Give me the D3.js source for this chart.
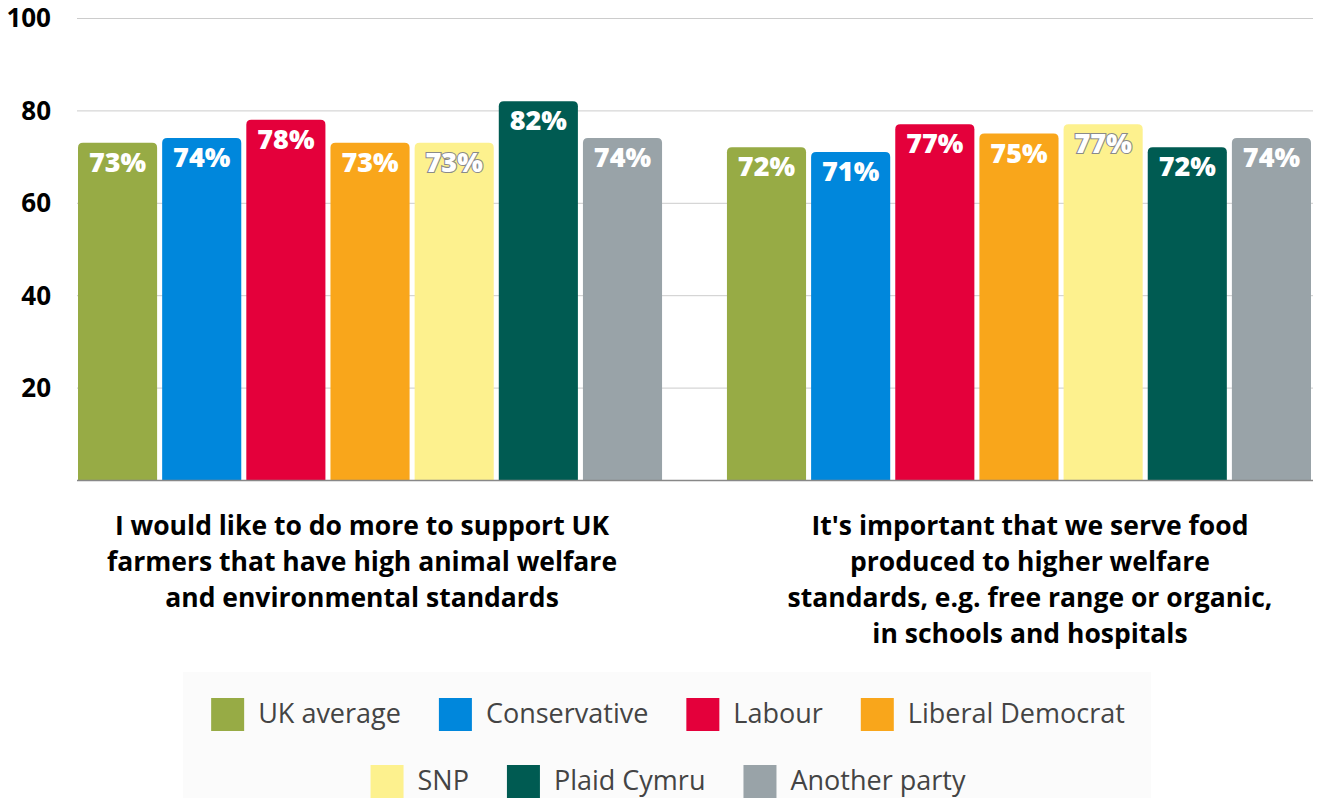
<!DOCTYPE html>
<html>
<head>
<meta charset="utf-8">
<script src="https://cdn.jsdelivr.net/npm/d3@7"></script>
<style>
  html, body { margin: 0; padding: 0; background: #fff; }
  svg { display: block; }
</style>
</head>
<body>
<div id="chart"></div>
<script>
// Data
const questions = [
  ['I would like to do more to support UK', 'farmers that have high animal welfare', 'and environmental standards'],
  ["It's important that we serve food", 'produced to higher welfare', 'standards, e.g. free range or organic,', 'in schools and hospitals']
];
const parties = ['UK average', 'Conservative', 'Labour', 'Liberal Democrat', 'SNP', 'Plaid Cymru', 'Another party'];
const partyColors = ['#97ab45', '#0087dc', '#e4003b', '#f9a61b', '#fdf18e', '#005b52', '#99a3a8'];
const supportFarmers = [73, 74, 78, 73, 73, 82, 74];
const schoolFood = [72, 71, 77, 75, 77, 72, 74];
const yTicks = [20, 40, 60, 80, 100];
const legendRows = [
  ['UK average', 'Conservative', 'Labour', 'Liberal Democrat'],
  ['SNP', 'Plaid Cymru', 'Another party']
];

const W = 1317, H = 798;
const seriesByQuestion = [supportFarmers, schoolFood];

const svg = d3.select('#chart').append('svg')
  .attr('width', W).attr('height', H);

const x0 = d3.scaleBand().domain(d3.range(questions.length))
  .range([78, 1311]).paddingInner(0.1).paddingOuter(0);
const x1 = d3.scaleBand().domain(parties)
  .range([0, x0.bandwidth()]).paddingInner(0.06).paddingOuter(0);
const y = d3.scaleLinear().domain([0, 100]).range([480, 18]);
const color = d3.scaleOrdinal().domain(parties).range(partyColors);

// grid lines
svg.append('g').selectAll('line')
  .data(yTicks).enter().append('line')
  .attr('x1', 77).attr('x2', 1313)
  .attr('y1', d => y(d) + 0.5).attr('y2', d => y(d) + 0.5)
  .attr('stroke', '#cccccc').attr('stroke-width', 1);

// y axis labels
svg.append('g').selectAll('text')
  .data(yTicks).enter().append('text')
  .attr('x', 51).attr('y', d => y(d))
  .attr('dy', '0.36em')
  .attr('text-anchor', 'end')
  .style('font-family', '"Open Sans", sans-serif')
  .style('font-weight', 700)
  .style('font-size', '26px')
  .style('fill', '#000')
  .text(d => d);

// rounded-top bar path
function topRounded(x, yTop, w, h, r) {
  r = Math.min(r, w / 2, h);
  return `M${x},${yTop + h}V${yTop + r}Q${x},${yTop} ${x + r},${yTop}` +
    `H${x + w - r}Q${x + w},${yTop} ${x + w},${yTop + r}V${yTop + h}Z`;
}

const groups = svg.append('g').selectAll('g.group')
  .data(questions).enter().append('g')
  .attr('class', 'group')
  .attr('transform', (d, i) => `translate(${x0(i)},0)`);

groups.each(function (q, gi) {
  const g = d3.select(this);
  const vals = seriesByQuestion[gi];
  const rows = parties.map((p, i) => ({ party: p, value: vals[i] }));

  g.selectAll('path.bar').data(rows).enter().append('path')
    .attr('class', 'bar')
    .attr('d', d => topRounded(x1(d.party), y(d.value), x1.bandwidth(), y(0) - y(d.value), 5))
    .attr('fill', d => color(d.party));

  g.selectAll('text.val').data(rows).enter().append('text')
    .attr('class', 'val')
    .attr('x', d => x1(d.party) + x1.bandwidth() / 2)
    .attr('y', d => y(d.value) + 29)
    .attr('text-anchor', 'middle')
    .style('font-family', '"Open Sans", sans-serif')
    .style('font-weight', 800)
    .style('font-size', '27px')
    .style('fill', '#fff')
    .style('paint-order', 'stroke')
    .style('stroke', d => d.party === 'SNP' ? '#8a8a8a' : 'none')
    .style('stroke-width', d => d.party === 'SNP' ? 2.2 : 0)
    .text(d => d.value + '%');

  // category label
  const cx = x0.bandwidth() / 2 + (gi === 0 ? -8 : 11);
  const label = g.append('text')
    .attr('x', cx)
    .attr('y', 535)
    .attr('text-anchor', 'middle')
    .style('font-family', '"Open Sans", sans-serif')
    .style('font-weight', 700)
    .style('font-size', '26.5px')
    .style('fill', '#000');
  label.selectAll('tspan').data(q).enter().append('tspan')
    .attr('x', cx)
    .attr('dy', (d, i) => i === 0 ? 0 : 36)
    .text(d => d);
});

// baseline
svg.append('line')
  .attr('x1', 77).attr('x2', 1313)
  .attr('y1', y(0) + 0.5).attr('y2', y(0) + 0.5)
  .attr('stroke', '#888').attr('stroke-width', 1.5);

// legend
svg.append('rect')
  .attr('x', 183).attr('y', 672).attr('width', 968).attr('height', 126)
  .attr('fill', '#fbfbfb');

const legendCenter = 668;
const rowY = [698, 765];
const sq = 33, textGap = 14, itemGap = 38;
legendRows.forEach((row, ri) => {
  const lg = svg.append('g');
  const items = lg.selectAll('g').data(row).enter().append('g');
  items.append('rect')
    .attr('width', sq).attr('height', sq)
    .attr('fill', d => color(d));
  items.append('text')
    .attr('x', sq + textGap).attr('y', sq / 2 - 1)
    .attr('dy', '0.35em')
    .style('font-family', '"Open Sans", sans-serif')
    .style('font-size', '27px')
    .style('fill', '#444')
    .text(d => d);
  let xPos = 0;
  const widths = [];
  items.each(function () {
    widths.push(sq + textGap + d3.select(this).select('text').node().getComputedTextLength());
  });
  const total = d3.sum(widths) + itemGap * (widths.length - 1);
  items.attr('transform', (d, i) => {
    const t = `translate(${xPos},0)`;
    xPos += widths[i] + itemGap;
    return t;
  });
  lg.attr('transform', `translate(${legendCenter - total / 2},${rowY[ri]})`);
});
</script>
</body>
</html>
